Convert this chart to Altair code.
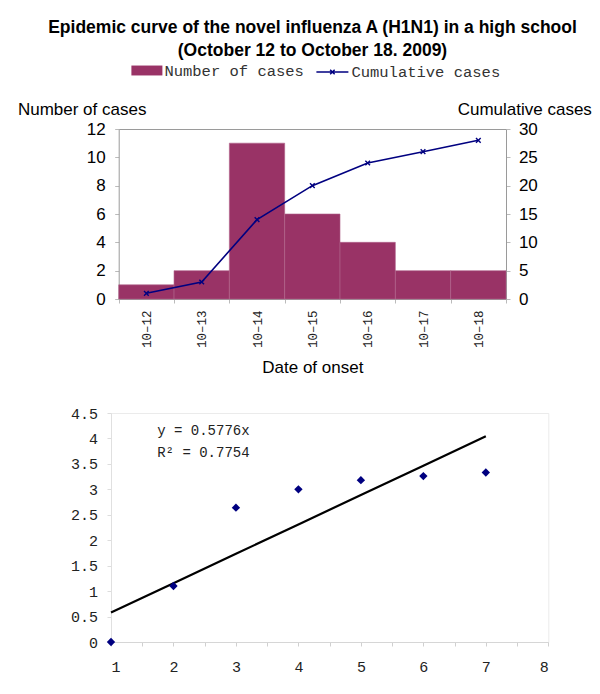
import altair as alt
import pandas as pd

# ---------------- data ----------------
dates = ["10–12", "10–13", "10–14", "10–15", "10–16", "10–17", "10–18"]
cases = [1, 2, 11, 6, 4, 2, 2]
cumulative = [1, 3, 14, 20, 24, 26, 28]
series_names = ["Number of cases", "Cumulative cases"]
cases_ticks = [0, 2, 4, 6, 8, 10, 12]
cum_ticks = [0, 5, 10, 15, 20, 25, 30]

day = [1, 2, 3, 4, 5, 6, 7]
log_cum = [0.0, 1.10, 2.64, 3.00, 3.18, 3.26, 3.33]
slope = 0.5776
r_squared = 0.7754
x2_ticks = [1, 1.5, 2, 2.5, 3, 3.5, 4, 4.5, 5, 5.5, 6, 6.5, 7, 7.5, 8]
y2_ticks = [0, 0.5, 1, 1.5, 2, 2.5, 3, 3.5, 4, 4.5]

title_lines = ["Epidemic curve of the novel influenza A (H1N1) in a high school",
               "(October 12 to October 18. 2009)"]
eq_text = "y = 0.5776x"
r2_text = "R² = 0.7754"

# ---------------- styles ----------------
BAR = "#993366"
LINE = "#000080"
BORDER = "#9a9a9a"
SANS = "Liberation Sans"
MONO = "Liberation Mono"

top_df = pd.DataFrame({
    "date": dates, "cases": cases, "cum": cumulative,
    "bar_series": [series_names[0]] * len(dates),
    "line_series": [series_names[1]] * len(dates),
})

x_scale = alt.Scale(range=[7.7, 395], paddingInner=0, paddingOuter=0)

bars = alt.Chart(top_df).mark_bar(stroke="#b0628a", strokeWidth=0.6).encode(
    x=alt.X("date:N", sort=dates, scale=x_scale,
            axis=alt.Axis(title="Date of onset", labelAngle=-90, labelFont=MONO,
                          labelFontSize=12.5, labelColor="#222", labelPadding=7,
                          tickBand="extent", tickSize=4, tickColor="#bbbbbb",
                          domainColor=BORDER, grid=False,
                          titleFont=SANS, titleFontSize=17, titleFontWeight="normal",
                          titleColor="#000", titlePadding=12)),
    y=alt.Y("cases:Q", scale=alt.Scale(domain=[0, 12], nice=False),
            axis=alt.Axis(values=cases_ticks, grid=False, offset=-7.7,
                          labelFont=SANS, labelFontSize=17, labelColor="#000",
                          labelPadding=9.5, tickSize=4, tickColor="#bbbbbb",
                          domainColor=BORDER,
                          title="Number of cases", titleAngle=0, titleAlign="left",
                          titleBaseline="middle", titleX=-101.3, titleY=-20,
                          titleFont=SANS, titleFontSize=17, titleFontWeight="normal",
                          titleColor="#000")),
    fill=alt.Fill("bar_series:N",
                  scale=alt.Scale(domain=[series_names[0]], range=[BAR]),
                  legend=alt.Legend(orient="none", legendX=20.4, legendY=-74,
                                    title=None, symbolType="M-1,-0.32H1V0.32H-1Z",
                                    symbolSize=961, symbolStrokeWidth=0,
                                    labelFont=MONO, labelFontSize=15.5,
                                    labelOffset=2, labelColor="#333")),
)

line = alt.Chart(top_df).mark_line(
    strokeWidth=1.6,
    point=alt.OverlayMarkDef(shape="M-1,-1L1,1M-1,1L1,-1", filled=False,
                             size=22, strokeWidth=1.4),
).encode(
    x=alt.X("date:N", sort=dates, scale=x_scale,
            axis=alt.Axis(orient="top", labels=False, ticks=False, title=None,
                          domainColor=BORDER, grid=False)),
    y=alt.Y("cum:Q", scale=alt.Scale(domain=[0, 30], nice=False),
            axis=alt.Axis(orient="right", values=cum_ticks, grid=False,
                          labelFont=SANS, labelFontSize=17, labelColor="#000",
                          labelPadding=8.4, tickSize=4, tickColor="#bbbbbb",
                          domainColor=BORDER,
                          title="Cumulative cases", titleAngle=0, titleAlign="left",
                          titleBaseline="middle", titleX=-48.8, titleY=-20,
                          titleFont=SANS, titleFontSize=17, titleFontWeight="normal",
                          titleColor="#000")),
    stroke=alt.Stroke("line_series:N",
                      scale=alt.Scale(domain=[series_names[1]], range=[LINE]),
                      legend=alt.Legend(orient="none", legendX=204.4, legendY=-74,
                                        title=None,
                                        symbolType="M-1,0H1M-0.14,-0.14L0.14,0.14M-0.14,0.14L0.14,-0.14",
                                        symbolSize=1024, symbolStrokeWidth=1.5,
                                        symbolFillColor="transparent",
                                        labelFont=MONO, labelFontSize=15.5,
                                        labelOffset=2, labelColor="#333")),
)

top = alt.layer(bars, line).resolve_scale(y="independent").resolve_axis(
    x="independent"
).properties(
    width=395, height=170,
    view=alt.ViewBackground(stroke="transparent"),
    title=alt.Title(title_lines, font=SANS, fontSize=17.5, fontWeight="bold",
                    color="#000", anchor="middle", frame="group", dx=4,
                    lineHeight=22.5, offset=41),
)

# ---------------- bottom scatter ----------------
bot_df = pd.DataFrame({"day": day, "logcum": log_cum})

x2_scale = alt.Scale(domain=[1, 8], nice=False)
y2_scale = alt.Scale(domain=[0, 4.5], nice=False)
x2_axis = alt.Axis(values=x2_ticks, format=".1~f", grid=False,
                   labelExpr="datum.value % 1 == 0 ? datum.label : ''",
                   labelOverlap=False, labelFont=MONO, labelFontSize=15,
                   labelColor="#222", labelPadding=13, tickSize=4,
                   tickColor="#d0d0d0", domainColor="#d6d6d6", title=None)
y2_axis = alt.Axis(values=y2_ticks, format=".1~f", grid=False,
                   labelOverlap=False,
                   labelFont=MONO, labelFontSize=15, labelColor="#222",
                   labelPadding=9.6, tickSize=4, tickColor="#dddddd",
                   domainColor="#e0e0e0", title=None)

pts = alt.Chart(bot_df).mark_point(shape="diamond", filled=True, size=70,
                                   color=LINE, opacity=1).encode(
    x=alt.X("day:Q", scale=x2_scale, axis=x2_axis),
    y=alt.Y("logcum:Q", scale=y2_scale, axis=y2_axis))

fit = alt.Chart(bot_df).transform_calculate(
    fit=f"{slope} * datum.day"
).mark_line(color="#000", strokeWidth=2.2).encode(
    x=alt.X("day:Q", scale=x2_scale, axis=x2_axis),
    y=alt.Y("fit:Q", scale=y2_scale, axis=y2_axis))

ann_df = pd.DataFrame({"t": [eq_text, r2_text], "row": [0, 1]})
eq = alt.Chart(ann_df).transform_filter("datum.row == 0").mark_text(
    align="left", baseline="middle", font=MONO, fontSize=14, color="#222"
).encode(x=alt.value(46.2), y=alt.value(17.6), text="t:N")
r2 = alt.Chart(ann_df).transform_filter("datum.row == 1").mark_text(
    align="left", baseline="middle", font=MONO, fontSize=14, color="#222"
).encode(x=alt.value(46.2), y=alt.value(40), text="t:N")

bottom = alt.layer(fit, pts, eq, r2).properties(
    width=437.3, height=229,
    view=alt.ViewBackground(stroke="#ebebeb"),
)

chart = alt.vconcat(top, bottom, spacing=114, bounds="flush").properties(
    padding={"left": 8, "top": 10, "right": 0, "bottom": 5}
).configure(font=SANS)

chart.save("out.html", embed_options={"renderer": "svg", "actions": False})
